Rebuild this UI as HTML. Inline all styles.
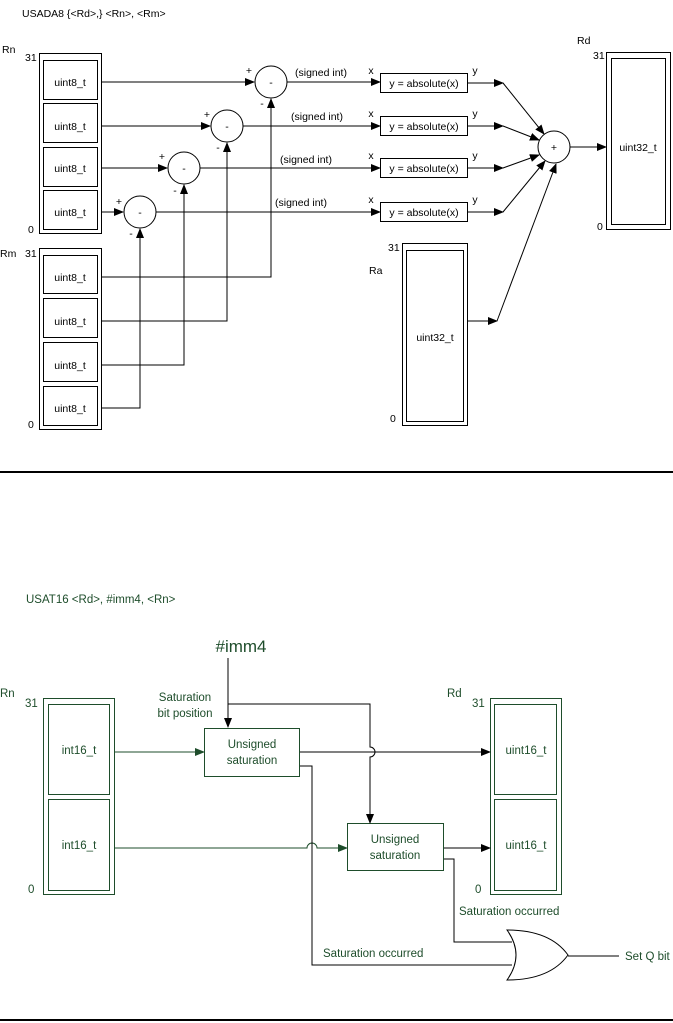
<!DOCTYPE html>
<html><head><meta charset="utf-8"><style>
html,body{margin:0;padding:0;background:#fff}
svg{display:block}
text{font-family:"Liberation Sans",sans-serif}
</style></head><body>
<svg width="673" height="1023" viewBox="0 0 673 1023" xmlns="http://www.w3.org/2000/svg">
<defs>
<marker id="a" markerWidth="10" markerHeight="8" refX="9" refY="4" orient="auto" markerUnits="userSpaceOnUse"><path d="M0,0 L10,4 L0,8 z" fill="#000"/></marker>
<marker id="g" markerWidth="10" markerHeight="8" refX="9" refY="4" orient="auto" markerUnits="userSpaceOnUse"><path d="M0,0 L10,4 L0,8 z" fill="#1e4d2b"/></marker>
</defs>
<g font-size="10.5" fill="#000">
<text x="22" y="17">USADA8  {&lt;Rd&gt;,} &lt;Rn&gt;, &lt;Rm&gt;</text>
<text x="2" y="53">Rn</text><text x="25" y="61">31</text><text x="28" y="233">0</text>
<text x="0" y="257">Rm</text><text x="25" y="257">31</text><text x="28" y="428">0</text>
<text x="577" y="44">Rd</text><text x="593" y="59">31</text><text x="597" y="230">0</text>
<text x="369" y="274">Ra</text><text x="388" y="251">31</text><text x="390" y="422">0</text>
</g>
<g fill="none" stroke="#000" stroke-width="1">
<rect x="39.5" y="53.5" width="62" height="180"/>
<rect x="43.5" y="60.5" width="54" height="39"/><rect x="43.5" y="103.5" width="54" height="39"/>
<rect x="43.5" y="147.5" width="54" height="39"/><rect x="43.5" y="190.5" width="54" height="39"/>
<rect x="39.5" y="248.5" width="62" height="181"/>
<rect x="43.5" y="255.5" width="54" height="38"/><rect x="43.5" y="298.5" width="54" height="39"/>
<rect x="43.5" y="342.5" width="54" height="39"/><rect x="43.5" y="386.5" width="54" height="39"/>
<rect x="606.5" y="52.5" width="64" height="177"/><rect x="611.5" y="58.5" width="54" height="166"/>
<rect x="402.5" y="243.5" width="65" height="182"/><rect x="406.5" y="250.5" width="57" height="171"/>
<circle cx="271" cy="82" r="16"/><circle cx="227" cy="126" r="16"/><circle cx="184" cy="168" r="16"/><circle cx="140" cy="212" r="16"/>
<circle cx="554" cy="147" r="16"/>
<rect x="380.5" y="73.5" width="87" height="19"/><rect x="380.5" y="116.5" width="87" height="19"/>
<rect x="380.5" y="158.5" width="87" height="19"/><rect x="380.5" y="202.5" width="87" height="19"/>
<path d="M102 82H254" marker-end="url(#a)"/><path d="M102 126H210" marker-end="url(#a)"/>
<path d="M102 168H167" marker-end="url(#a)"/><path d="M102 212H123" marker-end="url(#a)"/>
<path d="M102 277H271V99" marker-end="url(#a)"/><path d="M102 321H227V143" marker-end="url(#a)"/>
<path d="M102 365H184V185" marker-end="url(#a)"/><path d="M102 408H140V229" marker-end="url(#a)"/>
<path d="M287 82H380" marker-end="url(#a)"/><path d="M243 126H380" marker-end="url(#a)"/>
<path d="M200 168H380" marker-end="url(#a)"/><path d="M156 212H380" marker-end="url(#a)"/>
<path d="M467 83H503" marker-end="url(#a)"/><path d="M467 126H503" marker-end="url(#a)"/>
<path d="M467 168H503" marker-end="url(#a)"/><path d="M467 212H503" marker-end="url(#a)"/>
<path d="M503 83L544 134" marker-end="url(#a)"/><path d="M503 126L539 140" marker-end="url(#a)"/>
<path d="M503 168L539 155" marker-end="url(#a)"/><path d="M503 212L545 161" marker-end="url(#a)"/>
<path d="M467 321H497" marker-end="url(#a)"/><path d="M497 321L556 164" marker-end="url(#a)"/>
<path d="M570 147H606" marker-end="url(#a)"/>
</g>
<g font-size="10.5" fill="#000" text-anchor="middle">
<text x="70" y="86">uint8_t</text><text x="70" y="130">uint8_t</text><text x="70" y="172">uint8_t</text><text x="70" y="216">uint8_t</text>
<text x="70" y="281">uint8_t</text><text x="70" y="325">uint8_t</text><text x="70" y="369">uint8_t</text><text x="70" y="412">uint8_t</text>
<text x="638" y="151">uint32_t</text><text x="435" y="341">uint32_t</text>
<text x="271" y="86">-</text><text x="227" y="130">-</text><text x="184" y="172">-</text><text x="140" y="216">-</text>
<text x="554" y="151">+</text>
<text x="249" y="74">+</text><text x="207" y="118">+</text><text x="162" y="160">+</text><text x="119" y="205">+</text>
<text x="262" y="107">-</text><text x="218" y="151">-</text><text x="175" y="194">-</text><text x="131" y="237">-</text>
<text x="321" y="76">(signed int)</text><text x="317" y="120">(signed int)</text><text x="306" y="163">(signed int)</text><text x="301" y="206">(signed int)</text>
<text x="424" y="87">y = absolute(x)</text><text x="424" y="130">y = absolute(x)</text><text x="424" y="172">y = absolute(x)</text><text x="424" y="216">y = absolute(x)</text>
<text x="371" y="74">x</text><text x="371" y="117">x</text><text x="371" y="159">x</text><text x="371" y="203">x</text>
<text x="475" y="74">y</text><text x="475" y="117">y</text><text x="475" y="159">y</text><text x="475" y="203">y</text>
</g>
<rect x="0" y="471" width="673" height="2" fill="#000"/>
<rect x="0" y="1019" width="673" height="2" fill="#000"/>

<g font-size="11.5" fill="#1e4d2b">
<text x="26" y="603">USAT16 &lt;Rd&gt;, #imm4, &lt;Rn&gt;</text>
<text x="241" y="652" font-size="17" text-anchor="middle">#imm4</text>
<text x="185" y="701" text-anchor="middle">Saturation</text><text x="185" y="717" text-anchor="middle">bit position</text>
<text x="0" y="697">Rn</text><text x="25" y="707">31</text><text x="28" y="893">0</text>
<text x="447" y="697">Rd</text><text x="472" y="707">31</text><text x="475" y="893">0</text>
<g text-anchor="middle">
<text x="79" y="754">int16_t</text><text x="79" y="849">int16_t</text>
<text x="526" y="754">uint16_t</text><text x="526" y="849">uint16_t</text>
<text x="252" y="748">Unsigned</text><text x="252" y="764">saturation</text>
<text x="395" y="843">Unsigned</text><text x="395" y="859">saturation</text>
</g>
<text x="459" y="915">Saturation occurred</text>
<text x="323" y="957">Saturation occurred</text>
<text x="625" y="960">Set Q bit</text>
</g>
<g fill="none" stroke="#1e4d2b" stroke-width="1">
<rect x="43.5" y="698.5" width="71" height="196"/>
<rect x="48.5" y="704.5" width="61" height="90"/><rect x="48.5" y="799.5" width="61" height="91"/>
<rect x="490.5" y="698.5" width="71" height="196"/>
<rect x="494.5" y="704.5" width="62" height="90"/><rect x="494.5" y="799.5" width="62" height="91"/>
<rect x="204.5" y="728.5" width="95" height="48"/>
<rect x="347.5" y="823.5" width="96" height="47"/>
<path d="M115 752H204" marker-end="url(#g)"/>
<path d="M115 848H307a5 5 0 0 1 10 0H347" marker-end="url(#g)"/>
</g>
<g fill="none" stroke="#000" stroke-width="1">
<path d="M228 658V727" marker-end="url(#a)"/>
<path d="M228 704H370V747a5 5 0 0 1 0 10V823" marker-end="url(#a)"/>
<path d="M300 752H490" marker-end="url(#a)"/>
<path d="M300 766H312V965H512"/>
<path d="M444 848H490" marker-end="url(#a)"/>
<path d="M444 859H454V942H512"/>
<path d="M507 930Q525 955 507 980Q550 980 568 955Q550 930 507 930Z"/>
<path d="M568 956H619"/>
</g>
</svg>
</body></html>
